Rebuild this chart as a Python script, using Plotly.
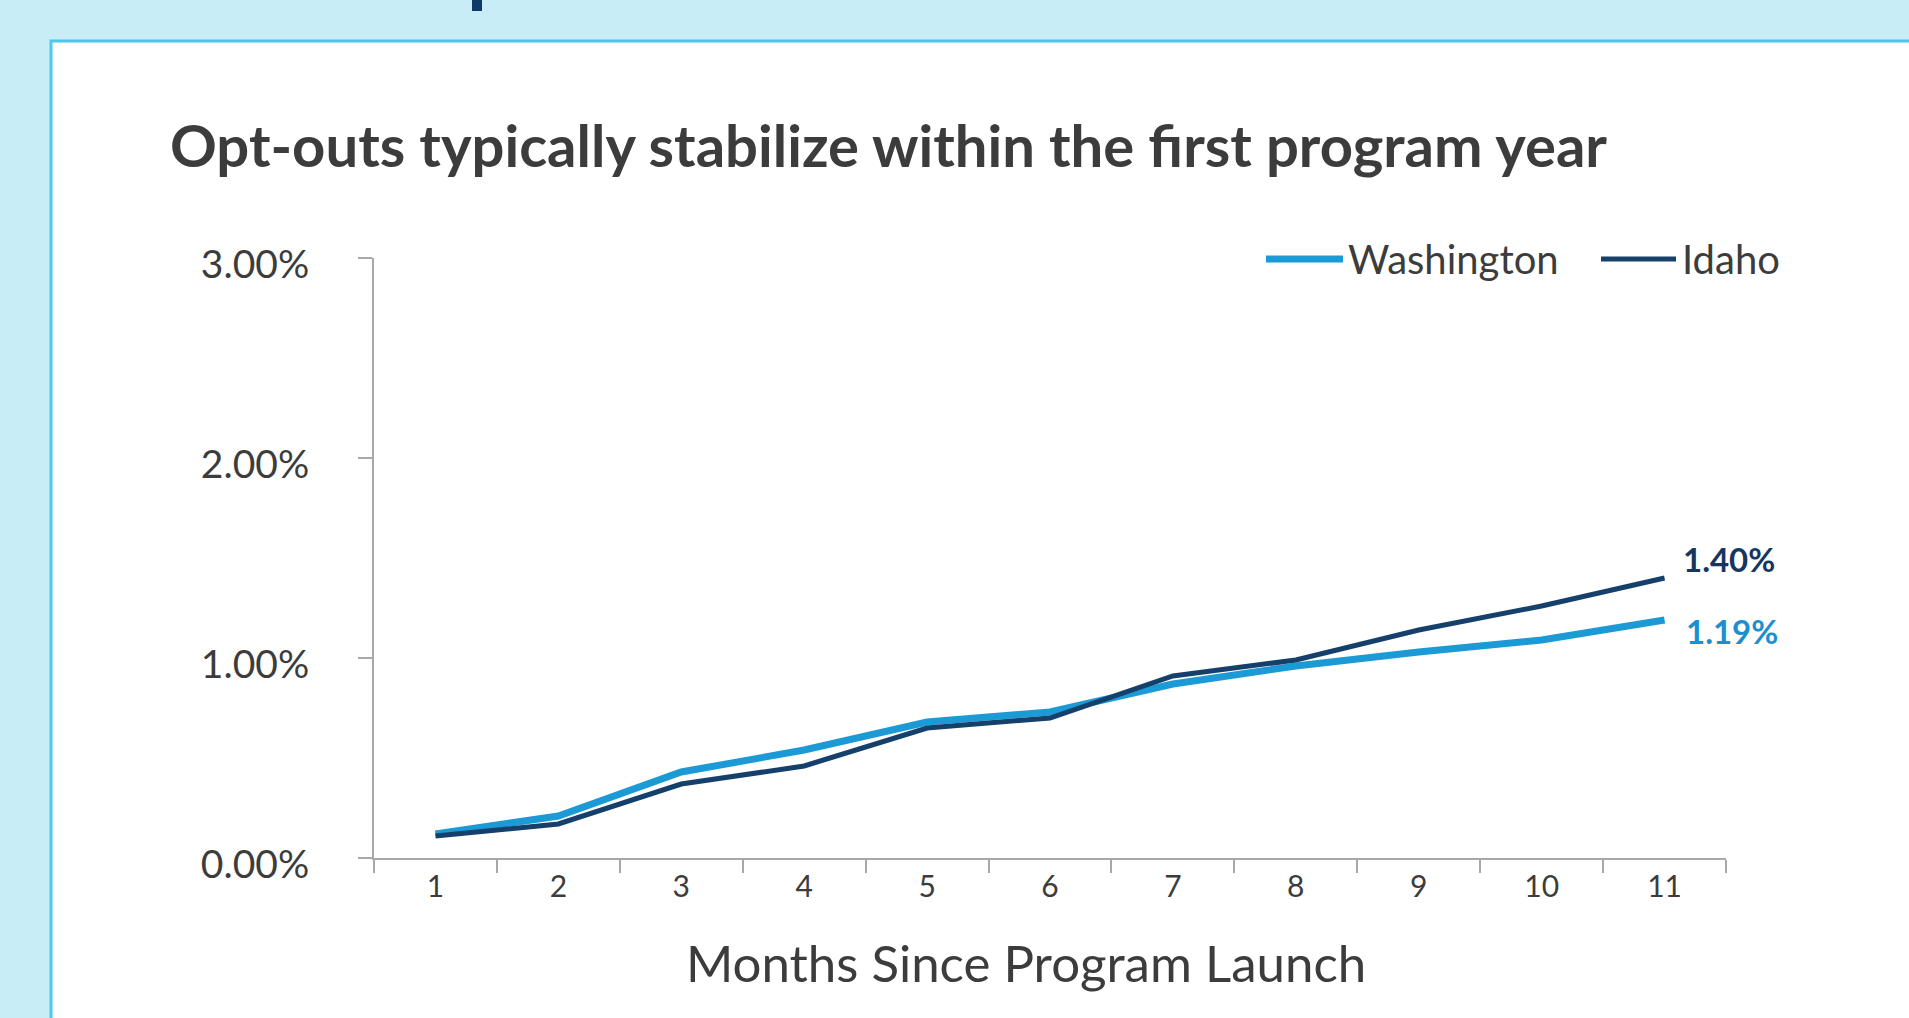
import plotly.graph_objects as go

months = [str(i) for i in range(1, 12)]
washington = [0.12, 0.21, 0.43, 0.54, 0.68, 0.73, 0.87, 0.96, 1.03, 1.09, 1.19]
idaho = [0.11, 0.17, 0.37, 0.46, 0.65, 0.70, 0.91, 0.99, 1.14, 1.26, 1.40]
y_ticks = [0, 1, 2, 3]
y_tick_labels = ["0.00%", "1.00%", "2.00%", "3.00%"]

title_text = "Opt-outs typically stabilize within the first program year"
x_title = "Months Since Program Launch"

WA_COLOR = "#1B9AD6"
ID_COLOR = "#16406C"
TEXT = "#3C3C3C"
AXIS = "#A8A8A8"
FONT = "Lato, 'Open Sans', sans-serif"

W, H = 1909, 1018
L, R, T, B = 374, 183, 258, 160
PW, PH = W - L - R, H - T - B


def px(x):
    return (x - L) / PW


def py(y):
    return (H - B - y) / PH


fig = go.Figure()
fig.add_trace(go.Scatter(x=months, y=washington, mode="lines", name="Washington",
                         line=dict(color=WA_COLOR, width=7), showlegend=False))
fig.add_trace(go.Scatter(x=months, y=idaho, mode="lines", name="Idaho",
                         line=dict(color=ID_COLOR, width=5), showlegend=False))

last = len(months) - 1

shapes = [
    # white panel with cyan border
    dict(type="rect", xref="paper", yref="paper", x0=px(51), x1=px(1960), y0=py(1060), y1=py(41),
         fillcolor="white", line=dict(color="#4CC8EA", width=3), layer="below"),
    # cropped header glyph at top
    dict(type="rect", xref="paper", yref="paper", x0=px(472), x1=px(482), y0=py(11), y1=py(-5),
         fillcolor="#0D3A68", line=dict(width=0), layer="below"),
    # custom legend lines
    dict(type="line", xref="paper", yref="paper", x0=px(1266), x1=px(1343), y0=py(259), y1=py(259),
         line=dict(color=WA_COLOR, width=7)),
    dict(type="line", xref="paper", yref="paper", x0=px(1601), x1=px(1676), y0=py(259), y1=py(259),
         line=dict(color=ID_COLOR, width=5)),
]

annotations = [
    dict(text="Washington", xref="paper", yref="paper", x=px(1346), y=py(259), xanchor="left",
         yanchor="middle", showarrow=False, font=dict(family=FONT, size=40, color=TEXT)),
    dict(text="Idaho", xref="paper", yref="paper", x=px(1680), y=py(259), xanchor="left",
         yanchor="middle", showarrow=False, font=dict(family=FONT, size=40, color=TEXT)),
    dict(text=f"{idaho[-1]:.2f}%", x=last, y=idaho[-1], xref="x", yref="y", xanchor="left",
         yanchor="middle", xshift=16, yshift=19, showarrow=False,
         font=dict(family=FONT, size=33, color="#17365F", weight="bold")),
    dict(text=f"{washington[-1]:.2f}%", x=last, y=washington[-1], xref="x", yref="y",
         xanchor="left", yanchor="middle", xshift=19, yshift=-11, showarrow=False,
         font=dict(family=FONT, size=33, color="#1B8FD0", weight="bold")),
    dict(text=x_title, xref="paper", yref="paper", x=px(1026), y=py(962), xanchor="center",
         yanchor="middle", showarrow=False, font=dict(family=FONT, size=51, color=TEXT)),
]

fig.update_layout(
    width=W, height=H,
    margin=dict(l=L, r=R, t=T, b=B, autoexpand=False),
    paper_bgcolor="#C8EDF7",
    plot_bgcolor="rgba(0,0,0,0)",
    font=dict(family=FONT, color=TEXT),
    title=dict(text=title_text, xref="container", yref="container", x=170 / W, y=1 - 147 / H,
               xanchor="left", yanchor="middle",
               font=dict(family=FONT, size=58, color=TEXT, weight="bold")),
    shapes=shapes,
    annotations=annotations,
    showlegend=False,
    xaxis=dict(type="category", range=[-0.5, 10.5], showgrid=False, zeroline=False,
               showline=True, linecolor=AXIS, linewidth=2,
               ticks="outside", ticklen=13, tickwidth=2, tickcolor=AXIS, tickson="boundaries",
               ticklabelstandoff=1,
               tickfont=dict(family=FONT, size=30, color=TEXT)),
    yaxis=dict(range=[0, 3], tickvals=y_ticks, ticktext=y_tick_labels, showgrid=False,
               zeroline=False, showline=True, linecolor=AXIS, linewidth=2,
               ticks="outside", ticklen=14, tickwidth=2, tickcolor=AXIS,
               ticklabelstandoff=41, ticklabelshift=6,
               tickfont=dict(family=FONT, size=39, color=TEXT)),
)

fig.write_html("out.html")
